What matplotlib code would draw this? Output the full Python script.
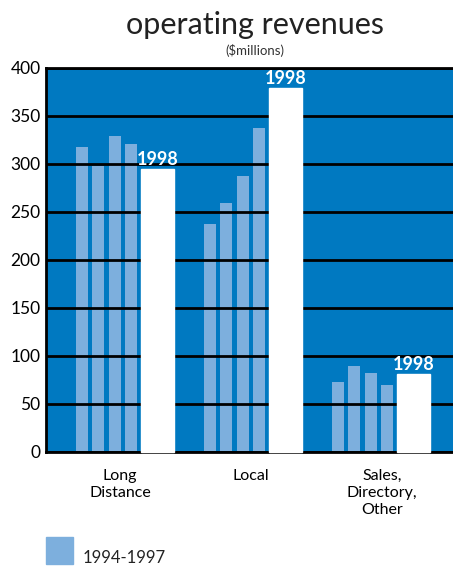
import matplotlib
matplotlib.use("Agg")
import matplotlib.pyplot as plt
from matplotlib.patches import Rectangle

plt.rcParams['font.family'] = ['Lato', 'DejaVu Sans']

categories = ['Long\nDistance', 'Local', 'Sales,\nDirectory,\nOther']
prior_years = ['1994', '1995', '1996', '1997']
# revenues 1994-1997 for each category ($millions)
prior_vals = [
    [318, 298, 329, 321],
    [238, 259, 287, 338],
    [73, 90, 82, 70],
]
vals_1998 = [295, 379, 81]
yticks = [0, 50, 100, 150, 200, 250, 300, 350, 400]

bg_blue = '#0079C1'
light_blue = '#7DAFDD'

fig = plt.figure(figsize=(4.53, 5.66), dpi=100)
ax = fig.add_axes([46/453, 1 - 452/566, 407/453, 384/566])
ax.set_facecolor(bg_blue)

# layout in axis pixel units
group_start = 30
group_step = 128
pitch = 16.3
thin_w = 12
wide_off = 65
wide_w = 33
label_start = 74
label_step = 131

for i, cat in enumerate(categories):
    g = group_start + i * group_step
    for j, v in enumerate(prior_vals[i]):
        ax.bar(g + j * pitch, v, width=thin_w, align='edge',
               color=light_blue, zorder=1)
    b = ax.bar(g + wide_off, vals_1998[i], width=wide_w, align='edge',
               color='white', edgecolor='white', linewidth=1, zorder=3)
    for r in b:
        r.set_clip_on(False)
    ax.text(g + wide_off + wide_w / 2, vals_1998[i] + 1, '1998',
            ha='center', va='bottom', color='white', fontsize=13,
            fontweight='bold', zorder=4)

ax.set_xlim(0, 407)
ax.set_ylim(0, 400)
ax.set_yticks(yticks)
ax.set_xticks([label_start + i * label_step for i in range(len(categories))])
ax.set_xticklabels(categories, fontsize=11.5, linespacing=1.3, va='top')
ax.tick_params(axis='both', length=0)
ax.tick_params(axis='y', labelsize=12.5, pad=4)
ax.tick_params(axis='x', pad=12)

ax.yaxis.grid(True, color='black', linewidth=2)
ax.xaxis.grid(False)
for side in ['left', 'top', 'bottom']:
    ax.spines[side].set_linewidth(2)
    ax.spines[side].set_color('black')
ax.spines['right'].set_visible(False)

fig.text(255/453, 1 - 34/566, 'operating revenues', ha='center',
         va='baseline', fontsize=22, color='#222222')
fig.text(255/453, 1 - 55/566, '($millions)', ha='center',
         va='baseline', fontsize=9.5, color='#333333')

# legend
fig.add_artist(Rectangle((46/453, 1 - 564/566), 27/453, 27/566,
                         transform=fig.transFigure, color=light_blue))
fig.text(83/453, 1 - 563/566, '1994-1997', ha='left', va='baseline',
         fontsize=12, color='#222222')

fig.savefig('out.png', dpi=100)
